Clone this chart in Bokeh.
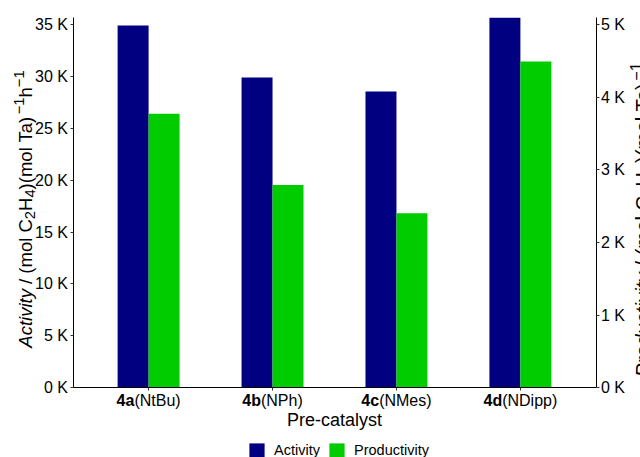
import math
from bokeh.plotting import figure
from bokeh.models import Range1d, LinearAxis, FixedTicker, Label, Legend, LegendItem
from bokeh.embed import file_html
from bokeh.resources import INLINE

# ---------------- data ----------------
categories = ["4a", "4b", "4c", "4d"]
ligands = ["(NtBu)", "(NPh)", "(NMes)", "(NDipp)"]
activity = [34900, 29900, 28550, 35650]
productivity = [3770, 2790, 2400, 4490]
activity_ticks = [0, 5000, 10000, 15000, 20000, 25000, 30000, 35000]
activity_tick_labels = ["0 K", "5 K", "10 K", "15 K", "20 K", "25 K", "30 K", "35 K"]
productivity_ticks = [0, 1000, 2000, 3000, 4000, 5000]
productivity_tick_labels = ["0 K", "1 K", "2 K", "3 K", "4 K", "5 K"]
series_names = ["Activity", "Productivity"]
series_colors = ["#000080", "#00CC00"]
x_title = "Pre-catalyst"

# ---------------- layout (canvas pixels) ----------------
W, H = 640, 457
FL, FR = 72.5, 595.5          # left / right axis lines
FB = 387.2                    # baseline (y = 0)
X0, X1 = 0.39, 4.61           # axis extent in x data
PX_X = (FR - FL) / (X1 - X0)
PX_Y = 10.377 / 1000.0        # px per activity unit
YTOP = (FB - 17.3) / PX_Y     # top of the axes
RATIO = 7.0                   # activity / productivity scale ratio
FONT = "Liberation Sans"
MID = 0.35                    # baseline -> middle of text, in em


def dx(px):
    return X0 + (px - FL) / PX_X


def dy(py):
    return (FB - py) / PX_Y


REG = {" ": 278, "\u00a0": 278, "!": 278, "(": 333, ")": 333, "-": 333, "/": 278,
       "A": 667, "B": 667, "C": 722, "D": 722, "H": 722, "K": 667, "M": 833, "N": 722,
       "P": 667, "T": 611, "a": 556, "b": 556, "c": 500, "d": 556, "e": 556, "h": 556,
       "i": 222, "l": 222, "m": 833, "o": 556, "p": 556, "r": 333, "s": 500, "t": 278,
       "u": 556, "v": 500, "y": 500, "\u2212": 584}
for ch in "0123456789":
    REG[ch] = 556
BOLD = {"4": 556, "a": 556, "b": 611, "c": 556, "d": 611}


def tw(s, size, bold=False):
    tab = BOLD if bold else REG
    return sum(tab.get(ch, 556) for ch in s) * size / 1000.0


p = figure(width=W, height=H, x_range=Range1d(dx(0), dx(W)), y_range=Range1d(dy(H), dy(0)),
           output_backend="svg", toolbar_location=None,
           x_axis_location=None, y_axis_location=None,
           min_border_left=0, min_border_right=0, min_border_top=0, min_border_bottom=0)
p.extra_y_ranges = {"right": Range1d(dy(H) / RATIO, dy(0) / RATIO)}
p.outline_line_color = None
p.xgrid.visible = False
p.ygrid.visible = False
p.background_fill_color = "white"
p.border_fill_color = "white"

xs = [i + 1 for i in range(len(categories))]
r_act = p.vbar(x=[x - 0.125 for x in xs], top=activity, width=0.25,
               fill_color=series_colors[0], line_color=None)
r_prod = p.vbar(x=[x + 0.125 for x in xs], top=productivity, width=0.25,
                fill_color=series_colors[1], line_color=None, y_range_name="right")

left_axis = LinearAxis(fixed_location=X0, bounds=(0, YTOP))
right_axis = LinearAxis(y_range_name="right", fixed_location=X1, bounds=(0, YTOP / RATIO))
bottom_axis = LinearAxis(fixed_location=0, bounds=(X0, X1))
p.add_layout(left_axis, "left")
p.add_layout(right_axis, "right")
p.add_layout(bottom_axis, "below")

for ax, ticks, labels in ((left_axis, activity_ticks, activity_tick_labels),
                          (right_axis, productivity_ticks, productivity_tick_labels),
                          (bottom_axis, xs, [""] * len(xs))):
    ax.ticker = FixedTicker(ticks=ticks)
    ax.major_label_overrides = {t: l for t, l in zip(ticks, labels)}
    ax.minor_tick_line_color = None
    ax.major_tick_in = 0
    ax.major_tick_out = 3
    ax.major_label_standoff = 2
    ax.major_label_text_font = FONT
    ax.major_label_text_font_size = "16px"
    ax.major_label_text_color = "black"
    ax.axis_line_color = "black"
    ax.major_tick_line_color = "#333333"


def put(text, px, py, size, style="normal", align="left", angle=0.0):
    # (px, py) is the alphabetic baseline start in canvas pixels
    if angle:
        ax_, ay_ = px - MID * size, py
    else:
        ax_, ay_ = px, py - MID * size
    p.add_layout(Label(x=dx(ax_), y=dy(ay_), text=text, text_font=FONT,
                       text_font_style=style, text_font_size="%.1fpx" % size,
                       text_color="black", angle=angle, text_align=align,
                       text_baseline="middle"))


# ---------------- x tick labels (bold + regular) ----------------
for x, cat, lig in zip(xs, categories, ligands):
    cx = FL + (x - X0) * PX_X
    wb = tw(cat, 16, True)
    wr = tw(lig, 16)
    start = cx - (wb + wr) / 2.0
    put(cat, start, 406, 16, style="bold")
    put(lig, start + wb, 406, 16)

put(x_title, (FL + FR) / 2.0, 425.5, 18, align="center")


# ---------------- rotated axis titles with sub/superscripts ----------------
def rotated_title(pieces, size, base_px, center_py):
    total = sum(tw(txt, size * scale) for txt, style, scale, shift in pieces)
    py = center_py + total / 2.0
    for txt, style, scale, shift in pieces:
        fs = size * scale
        put(txt, base_px - shift * size, py, fs, style=style, angle=math.pi / 2)
        py -= tw(txt, fs)


SUB = -0.18
SUP = 0.42
left_pieces = [("Activity", "italic", 1, 0), ("\u00a0/ (mol C", "normal", 1, 0),
               ("2", "normal", 0.8, SUB), ("H", "normal", 1, 0), ("4", "normal", 0.8, SUB),
               (")(mol Ta)", "normal", 1, 0), ("\u22121", "normal", 0.8, SUP),
               ("h", "normal", 1, 0), ("\u22121", "normal", 0.8, SUP)]
right_pieces = [("Productivity", "italic", 1, 0), ("\u00a0/ (mol C", "normal", 1, 0),
                ("2", "normal", 0.8, SUB), ("H", "normal", 1, 0), ("4", "normal", 0.8, SUB),
                (")(mol Ta)", "normal", 1, 0), ("\u22121", "normal", 0.8, SUP)]
rotated_title(left_pieces, 18.5, 31.5, 208.5)
rotated_title(right_pieces, 20.3, 649.5, 219.2)

# ---------------- legend ----------------
legend = Legend(items=[LegendItem(label=series_names[0], renderers=[r_act]),
                       LegendItem(label=series_names[1], renderers=[r_prod])],
                orientation="horizontal", location=(247.1, H - 459.8),
                glyph_width=19, glyph_height=19, label_standoff=8, spacing=7,
                padding=0, margin=0, border_line_color=None, background_fill_alpha=0,
                label_text_font=FONT, label_text_font_size="14.5px", label_height=19,
                label_text_color="black")
p.add_layout(legend, "center")

open("out.html", "w").write(file_html(p, INLINE))
